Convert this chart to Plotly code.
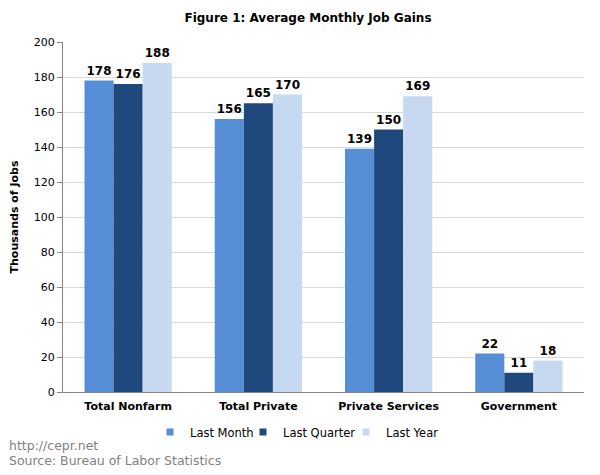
import plotly.graph_objects as go

categories = ["Total Nonfarm", "Total Private", "Private Services", "Government"]
last_month = [178, 156, 139, 22]
last_quarter = [176, 165, 150, 11]
last_year = [188, 170, 169, 18]
series_names = ["Last Month", "Last Quarter", "Last Year"]
colors = ["#558ED5", "#1F497D", "#C6D9F1"]
y_ticks = list(range(0, 201, 20))

font_family = "Verdana, DejaVu Sans, sans-serif"

fig = go.Figure()
for name, vals, col in zip(series_names, [last_month, last_quarter, last_year], colors):
    fig.add_trace(go.Bar(
        x=categories, y=vals, name=name, marker=dict(color=col, line=dict(width=0)),
        text=[str(v) for v in vals], textposition="outside", cliponaxis=False,
        textfont=dict(family=font_family, size=12, color="#000000", weight="bold"),
        showlegend=False,
    ))
# legend entries with small square markers, one legend per entry for compact spacing
legend_ids = ["legend", "legend2", "legend3"]
for name, col, lid in zip(series_names, colors, legend_ids):
    fig.add_trace(go.Scatter(
        x=[None], y=[None], mode="markers", name=name, legend=lid,
        marker=dict(symbol="square", size=7, color=col), showlegend=True,
    ))

plot_w, plot_h = 521, 350
margin_l = 55
legend_left = [142, 235, 338]
leg_common = dict(orientation="h", xanchor="left", y=-40/plot_h, yanchor="middle",
                  font=dict(size=11.5), itemwidth=30, bgcolor="rgba(0,0,0,0)", borderwidth=0)

# page body has an 8px default margin, so offsets are relative to the figure
fig.update_layout(
    width=600, height=475,
    margin=dict(l=margin_l, r=24, t=34, b=91),
    paper_bgcolor="white", plot_bgcolor="white",
    barmode="group", bargap=0.33, bargroupgap=0,
    font=dict(family=font_family, size=11, color="#000000"),
    title=dict(text="<b>Figure 1: Average Monthly Job Gains</b>", x=0.5, xanchor="center",
               y=1 - 10/475, yanchor="middle", font=dict(size=12)),
    showlegend=True,
    legend=dict(x=(legend_left[0]-margin_l)/plot_w, **leg_common),
    legend2=dict(x=(legend_left[1]-margin_l)/plot_w, **leg_common),
    legend3=dict(x=(legend_left[2]-margin_l)/plot_w, **leg_common),
)
fig.update_yaxes(range=[0, 200], tickvals=y_ticks, showgrid=True, gridcolor="#D9D9D9",
                 showline=True, linecolor="#868686", ticks="outside", ticklen=5, tickcolor="#868686",
                 zeroline=False, automargin=False,
                 title=dict(text="<b>Thousands of Jobs</b>", font=dict(size=11), standoff=12))
fig.update_xaxes(showline=True, linecolor="#868686", ticks="", automargin=False,
                 ticklabelstandoff=4, tickfont=dict(size=11, weight="bold"))

fig.add_annotation(text="http://cepr.net", xref="paper", yref="paper",
                   x=-56/plot_w, y=-53/plot_h, showarrow=False, align="left",
                   xanchor="left", yanchor="middle",
                   font=dict(size=12.5, color="#7F7F7F"))
fig.add_annotation(text="Source: Bureau of Labor Statistics", xref="paper", yref="paper",
                   x=-56/plot_w, y=-68/plot_h, showarrow=False, align="left",
                   xanchor="left", yanchor="middle",
                   font=dict(size=12.5, color="#7F7F7F"))

fig.write_html("out.html")
